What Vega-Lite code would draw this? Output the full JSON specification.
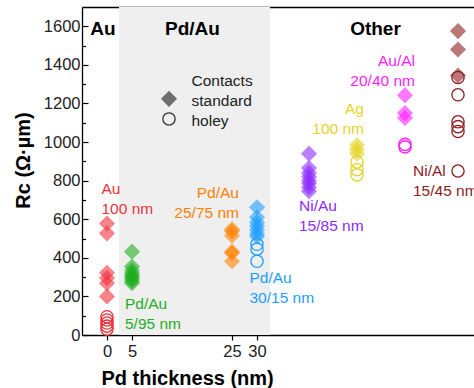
{
  "$schema": "https://vega.github.io/schema/vega-lite/v6.json",
  "width": 392,
  "height": 328,
  "autosize": {"type": "none"},
  "padding": {"left": 82, "top": 7, "right": 0, "bottom": 53},
  "config": {
    "view": {"stroke": null},
    "font": "Liberation Sans",
    "axis": {"grid": false, "domainColor": "black", "tickColor": "black", "labelColor": "#222", "labelFont": "Liberation Sans", "titleFont": "Liberation Sans", "titleColor": "black", "zindex": 1, "domainWidth": 1.3, "tickWidth": 1.2}
  },
  "datasets": {
    "shade": [{"start": 2.4, "end": 32.6}],
    "points": [
      {"material": "Au", "pd": 0, "contact": "standard", "rc": 578},
      {"material": "Au", "pd": 0, "contact": "standard", "rc": 527},
      {"material": "Au", "pd": 0, "contact": "standard", "rc": 322},
      {"material": "Au", "pd": 0, "contact": "standard", "rc": 295},
      {"material": "Au", "pd": 0, "contact": "standard", "rc": 268},
      {"material": "Au", "pd": 0, "contact": "standard", "rc": 200},
      {"material": "Au", "pd": 0, "contact": "holey", "rc": 95},
      {"material": "Au", "pd": 0, "contact": "holey", "rc": 78},
      {"material": "Au", "pd": 0, "contact": "holey", "rc": 62},
      {"material": "Au", "pd": 0, "contact": "holey", "rc": 46},
      {"material": "Au", "pd": 0, "contact": "holey", "rc": 30},
      {"material": "PdAu5", "pd": 5, "contact": "standard", "rc": 432},
      {"material": "PdAu5", "pd": 5, "contact": "standard", "rc": 355},
      {"material": "PdAu5", "pd": 5, "contact": "standard", "rc": 335},
      {"material": "PdAu5", "pd": 5, "contact": "standard", "rc": 320},
      {"material": "PdAu5", "pd": 5, "contact": "standard", "rc": 310},
      {"material": "PdAu5", "pd": 5, "contact": "standard", "rc": 300},
      {"material": "PdAu5", "pd": 5, "contact": "standard", "rc": 290},
      {"material": "PdAu5", "pd": 5, "contact": "standard", "rc": 280},
      {"material": "PdAu5", "pd": 5, "contact": "standard", "rc": 268},
      {"material": "PdAu25", "pd": 25, "contact": "standard", "rc": 548},
      {"material": "PdAu25", "pd": 25, "contact": "standard", "rc": 538},
      {"material": "PdAu25", "pd": 25, "contact": "standard", "rc": 515},
      {"material": "PdAu25", "pd": 25, "contact": "standard", "rc": 432},
      {"material": "PdAu25", "pd": 25, "contact": "standard", "rc": 425},
      {"material": "PdAu25", "pd": 25, "contact": "standard", "rc": 382},
      {"material": "PdAu30", "pd": 30, "contact": "standard", "rc": 662},
      {"material": "PdAu30", "pd": 30, "contact": "standard", "rc": 610},
      {"material": "PdAu30", "pd": 30, "contact": "standard", "rc": 585},
      {"material": "PdAu30", "pd": 30, "contact": "standard", "rc": 565},
      {"material": "PdAu30", "pd": 30, "contact": "standard", "rc": 545},
      {"material": "PdAu30", "pd": 30, "contact": "standard", "rc": 525},
      {"material": "PdAu30", "pd": 30, "contact": "standard", "rc": 510},
      {"material": "PdAu30", "pd": 30, "contact": "holey", "rc": 470},
      {"material": "PdAu30", "pd": 30, "contact": "holey", "rc": 445},
      {"material": "PdAu30", "pd": 30, "contact": "holey", "rc": 382},
      {"material": "NiAu", "pd": 40.4, "contact": "standard", "rc": 940},
      {"material": "NiAu", "pd": 40.4, "contact": "standard", "rc": 865},
      {"material": "NiAu", "pd": 40.4, "contact": "standard", "rc": 840},
      {"material": "NiAu", "pd": 40.4, "contact": "standard", "rc": 820},
      {"material": "NiAu", "pd": 40.4, "contact": "standard", "rc": 800},
      {"material": "NiAu", "pd": 40.4, "contact": "standard", "rc": 785},
      {"material": "NiAu", "pd": 40.4, "contact": "standard", "rc": 765},
      {"material": "NiAu", "pd": 40.4, "contact": "standard", "rc": 745},
      {"material": "Ag", "pd": 50, "contact": "standard", "rc": 985},
      {"material": "Ag", "pd": 50, "contact": "standard", "rc": 962},
      {"material": "Ag", "pd": 50, "contact": "standard", "rc": 940},
      {"material": "Ag", "pd": 50, "contact": "holey", "rc": 897},
      {"material": "Ag", "pd": 50, "contact": "holey", "rc": 857},
      {"material": "Ag", "pd": 50, "contact": "holey", "rc": 830},
      {"material": "AuAl", "pd": 59.6, "contact": "standard", "rc": 1243},
      {"material": "AuAl", "pd": 59.6, "contact": "standard", "rc": 1150},
      {"material": "AuAl", "pd": 59.6, "contact": "standard", "rc": 1125},
      {"material": "AuAl", "pd": 59.6, "contact": "holey", "rc": 988},
      {"material": "AuAl", "pd": 59.6, "contact": "holey", "rc": 975},
      {"material": "NiAl", "pd": 70.2, "contact": "standard", "rc": 1575},
      {"material": "NiAl", "pd": 70.2, "contact": "standard", "rc": 1480},
      {"material": "NiAl", "pd": 70.2, "contact": "standard", "rc": 1345},
      {"material": "NiAl", "pd": 70.2, "contact": "holey", "rc": 1335},
      {"material": "NiAl", "pd": 70.2, "contact": "holey", "rc": 1245},
      {"material": "NiAl", "pd": 70.2, "contact": "holey", "rc": 1105},
      {"material": "NiAl", "pd": 70.2, "contact": "holey", "rc": 1080},
      {"material": "NiAl", "pd": 70.2, "contact": "holey", "rc": 1055},
      {"material": "NiAl", "pd": 70.2, "contact": "holey", "rc": 850}
    ],
    "labelsLeft": [
      {"material": "Au", "text": "Au\n100 nm", "lx": -1.1, "ly": 733},
      {"material": "PdAu5", "text": "Pd/Au\n5/95 nm", "lx": 3.6, "ly": 137},
      {"material": "PdAu30", "text": "Pd/Au\n30/15 nm", "lx": 28.5, "ly": 272},
      {"material": "NiAu", "text": "Ni/Au\n15/85 nm", "lx": 38.4, "ly": 645},
      {"material": "NiAl", "text": "Ni/Al\n15/45 nm", "lx": 61.2, "ly": 823}
    ],
    "labelsRight": [
      {"material": "PdAu25", "text": "Pd/Au\n25/75 nm", "lx": 26.4, "ly": 709},
      {"material": "Ag", "text": "Ag\n100 nm", "lx": 51.4, "ly": 1146},
      {"material": "AuAl", "text": "Au/Al\n20/40 nm", "lx": 61.6, "ly": 1396}
    ],
    "headings": [
      {"text": "Au", "lx": -0.8, "ly": 1553},
      {"text": "Pd/Au", "lx": 17.1, "ly": 1553},
      {"text": "Other", "lx": 53.7, "ly": 1553}
    ],
    "legendText": [{"text": "Contacts\nstandard\nholey"}],
    "legendStandard": [{"contact": "standard"}],
    "legendHoley": [{"contact": "holey"}]
  },
  "layer": [
    {
      "data": {"name": "shade"},
      "mark": {"type": "rect", "fill": "#efefef"},
      "encoding": {
        "x": {"field": "start", "type": "quantitative", "scale": {"domain": [-5, 73.4], "nice": false, "zero": false},
              "axis": {"orient": "top", "labels": false, "ticks": false, "title": null, "domain": true}},
        "x2": {"field": "end"}
      }
    },
    {
      "data": {"name": "points"},
      "mark": {"type": "point", "opacity": 1, "fillOpacity": 0.6, "strokeOpacity": 1, "strokeWidth": 1.3},
      "encoding": {
        "x": {"field": "pd", "type": "quantitative", "scale": {"domain": [-5, 73.4], "nice": false, "zero": false},
              "axis": {"values": [0, 5, 25, 30], "labelFontSize": 16.5, "tickSize": 5, "labelPadding": 3,
                       "title": "Pd thickness (nm)", "titleFontSize": 20, "titleFontWeight": "bold",
                       "titleX": 19, "titleY": 49, "titleAlign": "left", "titleBaseline": "alphabetic"}},
        "y": {"field": "rc", "type": "quantitative", "scale": {"domain": [0, 1700], "nice": false},
              "axis": {"values": [0, 100, 200, 300, 400, 500, 600, 700, 800, 900, 1000, 1100, 1200, 1300, 1400, 1500, 1600],
                       "format": "d",
                       "labelExpr": "datum.value % 200 === 0 ? datum.label : ''",
                       "tickSize": {"condition": {"test": "datum.value % 200 === 0", "value": -6}, "value": -3.5},
                       "labelFontSize": 16.5, "labelPadding": 8,
                       "title": "Rc (Ω·µm)", "titleFontSize": 20, "titleFontWeight": "bold",
                       "titleX": -59, "titleY": 153, "titleAlign": "center", "titleBaseline": "middle", "titleAngle": -90}},
        "shape": {"field": "contact", "type": "nominal",
                  "scale": {"domain": ["standard", "holey"], "range": ["diamond", "circle"]},
                  "legend": null},
        "fill": {"condition": {"test": "datum.contact === 'standard'", "field": "material", "type": "nominal",
                               "scale": {"domain": ["Au", "PdAu5", "PdAu25", "PdAu30", "NiAu", "Ag", "AuAl", "NiAl"],
                                         "range": ["#f0303c", "#1fae1f", "#ff8000", "#1e9eff", "#8c2cff", "#e2d428", "#ff1eff", "#8e1c1c"]},
                               "legend": null},
                 "value": "transparent"},
        "stroke": {"condition": {"test": "datum.contact === 'holey'", "field": "material", "type": "nominal",
                                 "scale": {"domain": ["Au", "PdAu5", "PdAu25", "PdAu30", "NiAu", "Ag", "AuAl", "NiAl"],
                                           "range": ["#f0303c", "#1fae1f", "#ff8000", "#1e9eff", "#8c2cff", "#e2d428", "#ff1eff", "#8e1c1c"]},
                                 "legend": null},
                   "value": "transparent"},
        "size": {"condition": {"test": "datum.contact === 'standard'", "value": 260}, "value": 150}
      }
    },
    {
      "data": {"name": "labelsLeft"},
      "mark": {"type": "text", "align": "left", "baseline": "alphabetic", "fontSize": 15.5, "lineBreak": "\n", "lineHeight": 20},
      "encoding": {
        "x": {"field": "lx", "type": "quantitative", "scale": {"domain": [-5, 73.4], "nice": false, "zero": false}, "axis": null},
        "y": {"field": "ly", "type": "quantitative", "scale": {"domain": [0, 1700], "nice": false}, "axis": null},
        "text": {"field": "text"},
        "color": {"field": "material", "type": "nominal",
                  "scale": {"domain": ["Au", "PdAu5", "PdAu25", "PdAu30", "NiAu", "Ag", "AuAl", "NiAl"],
                            "range": ["#f0303c", "#1fae1f", "#ff8000", "#1e9eff", "#8c2cff", "#e2d428", "#ff1eff", "#8e1c1c"]},
                  "legend": null}
      }
    },
    {
      "data": {"name": "labelsRight"},
      "mark": {"type": "text", "align": "right", "baseline": "alphabetic", "fontSize": 15.5, "lineBreak": "\n", "lineHeight": 20},
      "encoding": {
        "x": {"field": "lx", "type": "quantitative", "scale": {"domain": [-5, 73.4], "nice": false, "zero": false}, "axis": null},
        "y": {"field": "ly", "type": "quantitative", "scale": {"domain": [0, 1700], "nice": false}, "axis": null},
        "text": {"field": "text"},
        "color": {"field": "material", "type": "nominal",
                  "scale": {"domain": ["Au", "PdAu5", "PdAu25", "PdAu30", "NiAu", "Ag", "AuAl", "NiAl"],
                            "range": ["#f0303c", "#1fae1f", "#ff8000", "#1e9eff", "#8c2cff", "#e2d428", "#ff1eff", "#8e1c1c"]},
                  "legend": null}
      }
    },
    {
      "data": {"name": "headings"},
      "mark": {"type": "text", "align": "center", "baseline": "alphabetic", "fontSize": 19, "fontWeight": "bold", "color": "black"},
      "encoding": {
        "x": {"field": "lx", "type": "quantitative", "scale": {"domain": [-5, 73.4], "nice": false, "zero": false}, "axis": null},
        "y": {"field": "ly", "type": "quantitative", "scale": {"domain": [0, 1700], "nice": false}, "axis": null},
        "text": {"field": "text"}
      }
    },
    {
      "data": {"name": "legendStandard"},
      "mark": {"type": "point", "shape": "diamond", "filled": true, "color": "#6e6e6e", "opacity": 1, "size": 260},
      "encoding": {
        "x": {"datum": 12.4, "type": "quantitative", "axis": null},
        "y": {"datum": 1224, "type": "quantitative", "axis": null}
      }
    },
    {
      "data": {"name": "legendHoley"},
      "mark": {"type": "point", "shape": "circle", "filled": false, "color": "#333333", "opacity": 1, "size": 150, "strokeWidth": 1.3},
      "encoding": {
        "x": {"datum": 12.4, "type": "quantitative", "axis": null},
        "y": {"datum": 1120, "type": "quantitative", "axis": null}
      }
    },
    {
      "data": {"name": "legendText"},
      "mark": {"type": "text", "align": "left", "baseline": "alphabetic", "fontSize": 15.5, "lineBreak": "\n", "lineHeight": 20, "color": "#222"},
      "encoding": {
        "x": {"datum": 16.9, "type": "quantitative", "axis": null},
        "y": {"datum": 1293, "type": "quantitative", "axis": null},
        "text": {"field": "text"}
      }
    }
  ],
  "resolve": {"axis": {"x": "independent", "y": "independent"}}
}
